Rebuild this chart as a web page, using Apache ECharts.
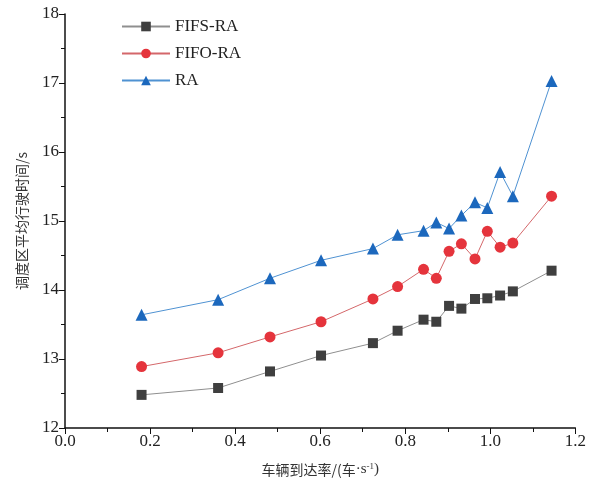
<!DOCTYPE html>
<html>
<head>
<meta charset="utf-8">
<script src="https://cdn.jsdelivr.net/npm/echarts@6/dist/echarts.min.js"></script>
<style>
html, body { margin: 0; padding: 0; background: #fff; }
#show { width: 589px; height: 485px; }
</style>
</head>
<body>
<div id="show"></div>
<script>
var myChart = echarts.init(document.getElementById("show"));

// 车辆到达率 (x)
var arrivalRate = [0.18, 0.36, 0.482, 0.602, 0.724, 0.782, 0.843, 0.873, 0.903, 0.932, 0.964, 0.993, 1.023, 1.053, 1.144];
var fifsRA = [12.48, 12.58, 12.82, 13.05, 13.23, 13.41, 13.57, 13.54, 13.77, 13.73, 13.87, 13.88, 13.92, 13.98, 14.28];
var fifoRA = [12.89, 13.09, 13.32, 13.54, 13.87, 14.05, 14.30, 14.17, 14.56, 14.67, 14.45, 14.85, 14.62, 14.68, 15.36];
var ra = [13.64, 13.86, 14.17, 14.43, 14.60, 14.80, 14.86, 14.98, 14.89, 15.08, 15.27, 15.19, 15.71, 15.36, 17.03];
var seriesNames = ['FIFS-RA', 'FIFO-RA', 'RA'];

function pairs(ys) {
    return arrivalRate.map(function (x, i) { return [x, ys[i]]; });
}

var serif = '"Liberation Serif", "Times New Roman", serif';
var cjk = '"Noto Sans CJK SC", sans-serif';

function makeSeries(name, ys, symbol, size, markColor, lineColor) {
    return {
        name: name,
        type: 'line',
        data: pairs(ys),
        symbol: symbol,
        symbolSize: size,
        showAllSymbol: true,
        itemStyle: { color: markColor, opacity: 1 },
        lineStyle: { color: lineColor, width: 1 },
        emphasis: { disabled: true },
        z: 3
    };
}

myChart.setOption({
    animation: false,
    grid: { left: 65, right: 10, top: 14, bottom: 57, containLabel: false },
    legend: {
        left: 116,
        top: 13,
        orient: 'vertical',
        itemGap: 10,
        itemWidth: 48,
        itemHeight: 12,
        textStyle: { fontFamily: serif, fontSize: 17, color: '#222' },
        data: seriesNames
    },
    xAxis: {
        type: 'value',
        min: 0,
        max: 1.2,
        interval: 0.2,
        name: '车辆到达率/(车{s|·s}{sup|-1}{s|)}',
        nameLocation: 'middle',
        nameGap: 34,
        nameTextStyle: {
            fontFamily: cjk, fontSize: 14, color: '#333',
            rich: {
                s: { fontFamily: serif, fontSize: 15, color: '#333' },
                sup: { fontSize: 9, verticalAlign: 'top', padding: [0, 0, 6, 0], fontFamily: serif, color: '#333' }
            }
        },
        axisLine: { show: true, lineStyle: { color: '#111', width: 1.5 } },
        axisTick: { show: true, inside: false, length: 6, lineStyle: { color: '#111' } },
        minorTick: { show: true, splitNumber: 2, length: 4, lineStyle: { color: '#111' } },
        splitLine: { show: false },
        axisLabel: {
            fontFamily: serif, fontSize: 17, color: '#222', margin: 5,
            formatter: function (v) { return v.toFixed(1); }
        }
    },
    yAxis: {
        type: 'value',
        min: 12,
        max: 18,
        interval: 1,
        name: '调度区平均行驶时间/s',
        nameLocation: 'middle',
        nameGap: 36,
        nameTextStyle: { fontFamily: cjk, fontSize: 14, color: '#333' },
        axisLine: { show: true, lineStyle: { color: '#111', width: 1.5 } },
        axisTick: { show: true, inside: false, length: 6, lineStyle: { color: '#111' } },
        minorTick: { show: true, splitNumber: 2, length: 4, lineStyle: { color: '#111' } },
        splitLine: { show: false },
        axisLabel: { fontFamily: serif, fontSize: 17, color: '#222', margin: 6 }
    },
    series: [
        makeSeries(seriesNames[0], fifsRA, 'rect', 10, '#3f3f3f', '#8f8f8f'),
        makeSeries(seriesNames[1], fifoRA, 'circle', 11, '#e5343c', '#d4676a'),
        makeSeries(seriesNames[2], ra, 'triangle', 12, '#1c68bd', '#4f92d2')
    ]
});
</script>
</body>
</html>
